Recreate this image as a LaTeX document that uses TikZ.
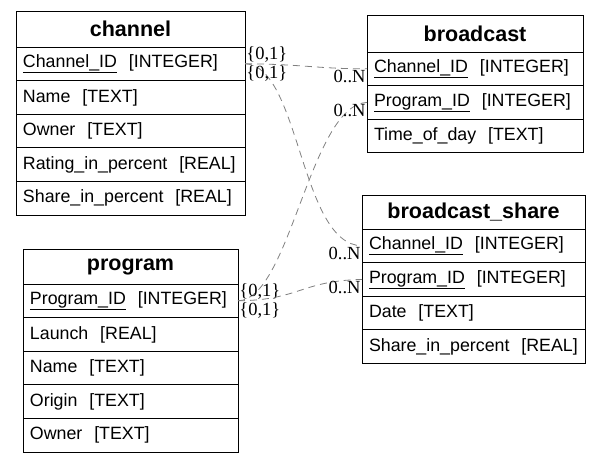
\documentclass[tikz,border=0pt]{standalone}
\usepackage{fontspec}
\setmainfont{Liberation Serif}
\setsansfont{Liberation Sans}
\usetikzlibrary{positioning}
\newcommand{\pk}[1]{\underline{#1}}
\tikzset{
  tw/.style={text width=200pt},
  cell/.style={draw, line width=1pt, outer sep=0pt, inner xsep=7pt, inner ysep=0pt,
    minimum height=33.6pt, align=left, tw, font=\sffamily\fontsize{17.8}{21}\selectfont},
  head/.style={cell, align=center, font=\sffamily\bfseries\fontsize{21.5}{25}\selectfont},
  rel/.style={draw=gray, line width=0.8pt, dash pattern=on 7pt off 5pt},
  card/.style={font=\fontsize{18.5}{21}\selectfont, inner sep=1pt},
}
\begin{document}
\begin{tikzpicture}[x=1pt, y=-1pt]
\useasboundingbox (0,0) rectangle (603,464);
% channel
\begin{scope}[tw/.style={text width=215pt}]
\node[head, anchor=north west, minimum height=36pt] (channel) at (16,11) {channel};
\node[cell, below=0pt of channel] (ch_id) {\pk{Channel\_ID}\ \ [INTEGER]};
\node[cell, below=0pt of ch_id] (ch_name) {Name\ \ [TEXT]};
\node[cell, below=0pt of ch_name] (ch_owner) {Owner\ \ [TEXT]};
\node[cell, below=0pt of ch_owner] (ch_rating) {\mbox{Rating\_in\_percent\ \ [REAL]}};
\node[cell, below=0pt of ch_rating] (ch_share) {\mbox{Share\_in\_percent\ \ [REAL]}};
\end{scope}
% broadcast
\begin{scope}[tw/.style={text width=202pt}]
\node[head, anchor=north west, minimum height=37pt] (broadcast) at (367,15) {broadcast};
\node[cell, below=0pt of broadcast] (bc_ch) {\pk{Channel\_ID}\ \ [INTEGER]};
\node[cell, below=0pt of bc_ch] (bc_pg) {\pk{Program\_ID}\ \ [INTEGER]};
\node[cell, below=0pt of bc_pg] (bc_time) {Time\_of\_day\ \ [TEXT]};
\end{scope}
% broadcast_share
\begin{scope}[tw/.style={text width=209pt}]
\node[head, anchor=north west, minimum height=34pt] (share) at (362,195) {broadcast\_share};
\node[cell, below=0pt of share] (bs_ch) {\pk{Channel\_ID}\ \ [INTEGER]};
\node[cell, below=0pt of bs_ch] (bs_pg) {\pk{Program\_ID}\ \ [INTEGER]};
\node[cell, below=0pt of bs_pg] (bs_date) {Date\ \ [TEXT]};
\node[cell, below=0pt of bs_date] (bs_share) {\mbox{Share\_in\_percent\ \ [REAL]}};
\end{scope}
% program
\begin{scope}[tw/.style={text width=201pt}]
\node[head, anchor=north west, minimum height=35pt] (program) at (23,249) {program};
\node[cell, below=0pt of program] (pg_id) {\pk{Program\_ID}\ \ [INTEGER]};
\node[cell, below=0pt of pg_id] (pg_launch) {Launch\ \ [REAL]};
\node[cell, below=0pt of pg_launch] (pg_name) {Name\ \ [TEXT]};
\node[cell, below=0pt of pg_name] (pg_origin) {Origin\ \ [TEXT]};
\node[cell, below=0pt of pg_origin] (pg_owner) {Owner\ \ [TEXT]};
\end{scope}
% relations
\draw[rel] (ch_id.east) .. controls (300,64) and (320,69) .. (bc_ch.west)
  node[card, pos=0, anchor=south west] {\{0,1\}} node[card, pos=1, anchor=north east] {0..N};
\draw[rel] (ch_id.east) .. controls (300,65) and (300,245) .. (bs_ch.west)
  node[card, pos=0, anchor=north west] {\{0,1\}} node[card, pos=1, anchor=north east] {0..N};
\draw[rel] (pg_id.east) .. controls (290,300) and (310,105) .. (bc_pg.west)
  node[card, pos=0, anchor=south west] {\{0,1\}} node[card, pos=1, anchor=north east] {0..N};
\draw[rel] (pg_id.east) .. controls (300,300) and (300,281) .. (bs_pg.west)
  node[card, pos=0, anchor=north west] {\{0,1\}} node[card, pos=1, anchor=north east] {0..N};
\end{tikzpicture}
\end{document}
